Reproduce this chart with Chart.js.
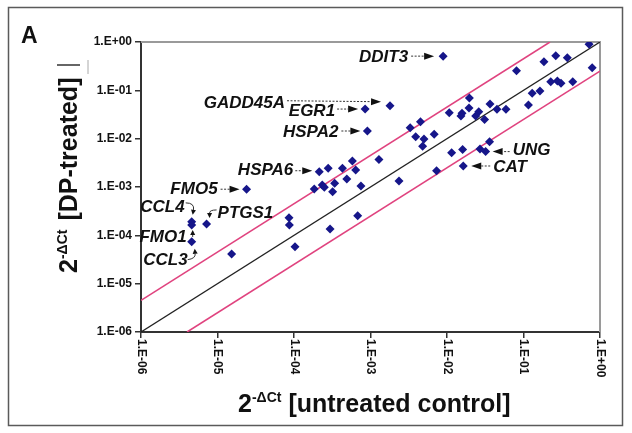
<!DOCTYPE html>
<html>
<head>
<meta charset="utf-8">
<script src="https://cdn.jsdelivr.net/npm/chart.js@4.4.0/dist/chart.umd.min.js"></script>
<style>
  html, body { margin: 0; padding: 0; background: #fff; }
  #chart { display: block; }
</style>
</head>
<body>
<canvas id="chart" width="632" height="433"></canvas>
<script>
const FONT = '"Liberation Sans", Arial, sans-serif';

const tickValues = [1e-6, 1e-5, 1e-4, 1e-3, 1e-2, 1e-1, 1];
const xTickLabels = ['1.E-06', '1.E-05', '1.E-04', '1.E-03', '1.E-02', '1.E-01', '1.E+00'];
const yTickLabels = ['1.E-06', '1.E-05', '1.E-04', '1.E-03', '1.E-02', '1.E-01', '1.E+00'];

// genes called out on the plot
const labelledGenes = ['DDIT3', 'GADD45A', 'EGR1', 'HSPA2', 'HSPA6', 'FMO5', 'CCL4', 'PTGS1', 'FMO1', 'CCL3', 'UNG', 'CAT'];
const labelledControl = [8.9e-3, 1.8e-3, 8.5e-4, 9.1e-4, 2.14e-4, 2.4e-5, 4.6e-6, 7.2e-6, 4.6e-6, 4.6e-6, 3.2e-2, 1.63e-2];
const labelledTreated = [0.51, 4.8e-2, 4.1e-2, 1.44e-2, 2.07e-3, 9.0e-4, 1.9e-4, 1.72e-4, 1.64e-4, 7.4e-5, 5.4e-3, 2.72e-3];

// remaining genes
const otherControl = [
  1.53e-5, 8.6e-5, 8.7e-5, 1.03e-4, 2.8e-4, 4.3e-4, 5.8e-4, 6.4e-4, 1.29e-3, 4.9e-4,
  3.4e-4, 1.84e-4, 2.34e-4, 2.49e-4, 3.2e-4, 7.5e-4, 2.36e-3, 6.8e-4, 2.96e-4, 3.3e-3,
  4.5e-3, 3.9e-3, 5.0e-3, 4.8e-3, 6.8e-3, 1.07e-2, 1.52e-2, 1.57e-2, 1.96e-2, 1.94e-2,
  2.6e-2, 2.37e-2, 3.1e-2, 3.65e-2, 4.5e-2, 5.9e-2, 7.3e-3, 1.15e-2, 1.6e-2, 2.7e-2,
  3.6e-2, 0.72, 0.264, 0.185, 0.374, 8.1e-2, 0.79, 0.227, 0.277, 0.309,
  0.44, 0.13, 0.164, 0.116
];
const otherTreated = [
  4.1e-5, 2.3e-4, 1.64e-4, 5.8e-5, 2.44e-3, 2.44e-3, 3.45e-3, 2.25e-3, 3.7e-3, 1.47e-3,
  1.19e-3, 9.1e-4, 1.1e-3, 9.9e-4, 8.0e-4, 1.05e-3, 1.33e-3, 2.55e-4, 1.35e-4, 1.69e-2,
  2.24e-2, 1.1e-2, 9.8e-3, 7.0e-3, 1.23e-2, 3.45e-2, 2.94e-2, 3.35e-2, 6.9e-2, 4.3e-2,
  3.6e-2, 2.94e-2, 2.5e-2, 5.2e-2, 4.05e-2, 4.05e-2, 2.17e-3, 5.1e-3, 6.0e-3, 6.1e-3,
  8.6e-3, 0.9, 0.52, 0.39, 0.47, 0.255, 0.294, 0.151, 0.156, 0.14,
  0.151, 8.7e-2, 9.7e-2, 4.98e-2
];

// reference lines: identity and the fold-change band
const identityX = [1e-6, 1];
const identityY = [1e-6, 1];
const upperX = [1e-6, 0.222];
const upperY = [4.5e-6, 1];
const lowerX = [4e-6, 1];
const lowerY = [1e-6, 0.25];

// where each callout text and arrow sits, relative to its point (pixels)
const callouts = {
  DDIT3:   { align: 'right', tx: -35, ty: 1,  arrow: [[-32, 0], [-9, 0]], dotted: true },
  GADD45A: { align: 'right', tx: -105, ty: -2, arrow: [[-103, -5], [-9, -4]], dotted: true },
  EGR1:    { align: 'right', tx: -30, ty: 2,  arrow: [[-28, 0], [-7, 0]], dotted: true },
  HSPA2:   { align: 'right', tx: -29, ty: 1,  arrow: [[-26, 0], [-7, 0]], dotted: true },
  HSPA6:   { align: 'right', tx: -26, ty: -1, arrow: [[-24, -1], [-7, -1]], dotted: true },
  FMO5:    { align: 'right', tx: -29, ty: 0,  arrow: [[-26, 0], [-7, 0]], dotted: true },
  CCL4:    { align: 'right', tx: -7, ty: -15, arrow: [[-6, -19], [3, -19], [1, -7]], small: true },
  PTGS1:   { align: 'left',  tx: 11, ty: -11, arrow: [[10, -14], [3, -14], [3, -6]], small: true },
  FMO1:    { align: 'right', tx: -5, ty: 12,  arrow: [[1, 12], [1, 5]], small: true },
  CCL3:    { align: 'right', tx: -4, ty: 19,  arrow: [[-4, 18], [4, 17], [3, 7]], small: true },
  UNG:     { align: 'left',  tx: 27, ty: -1,  arrow: [[24, 0], [7, 0]], dotted: true },
  CAT:     { align: 'left',  tx: 30, ty: 1,   arrow: [[27, 0], [8, 0]], dotted: true },
};

function toPoints(xs, ys) {
  return xs.map((x, i) => ({ x, y: ys[i] }));
}

function drawArrow(ctx, pts, opts) {
  const last = pts[pts.length - 1];
  const prev = pts[pts.length - 2];
  const headLen = opts.small ? 5 : 10;
  const half = opts.small ? 2.5 : 3.5;
  const ang = Math.atan2(last[1] - prev[1], last[0] - prev[0]);
  const bx = last[0] - headLen * Math.cos(ang);
  const by = last[1] - headLen * Math.sin(ang);

  ctx.save();
  ctx.strokeStyle = '#333';
  ctx.fillStyle = '#111';
  ctx.lineWidth = 1;
  if (opts.dotted) ctx.setLineDash([2, 1.5]);
  ctx.beginPath();
  ctx.moveTo(pts[0][0], pts[0][1]);
  if (pts.length === 3) {
    ctx.quadraticCurveTo(pts[1][0], pts[1][1], bx, by);
  } else {
    ctx.lineTo(bx, by);
  }
  ctx.stroke();
  ctx.setLineDash([]);
  ctx.beginPath();
  ctx.moveTo(last[0], last[1]);
  ctx.lineTo(bx + half * Math.sin(ang), by - half * Math.cos(ang));
  ctx.lineTo(bx - half * Math.sin(ang), by + half * Math.cos(ang));
  ctx.closePath();
  ctx.fill();
  ctx.restore();
}

const decorPlugin = {
  id: 'decor',
  beforeDraw(chart) {
    const { ctx } = chart;
    ctx.save();
    ctx.fillStyle = '#fff';
    ctx.fillRect(0, 0, chart.width, chart.height);
    ctx.strokeStyle = '#5a5a5a';
    ctx.lineWidth = 1.5;
    ctx.strokeRect(8.5, 7.5, 614, 418);
    ctx.restore();
  },
  beforeDatasetsDraw(chart) {
    const { ctx, chartArea: a } = chart;
    ctx.save();
    ctx.strokeStyle = '#9a9a9a';
    ctx.lineWidth = 2;
    ctx.beginPath();
    ctx.moveTo(a.left, a.top);
    ctx.lineTo(a.right, a.top);
    ctx.lineTo(a.right, a.bottom);
    ctx.stroke();
    ctx.restore();
  },
  afterDraw(chart) {
    const { ctx, chartArea: a } = chart;
    const xs = chart.scales.x;
    const ys = chart.scales.y;
    ctx.save();

    // panel letter
    ctx.fillStyle = '#111';
    ctx.font = `bold 23px ${FONT}`;
    ctx.textBaseline = 'alphabetic';
    ctx.textAlign = 'left';
    ctx.fillText('A', 21, 43);

    // x tick labels, rotated clockwise
    ctx.font = `bold 12px ${FONT}`;
    ctx.textBaseline = 'middle';
    tickValues.forEach((v, i) => {
      const px = xs.getPixelForValue(v);
      ctx.save();
      ctx.translate(px, a.bottom + 7);
      ctx.rotate(Math.PI / 2);
      ctx.fillText(xTickLabels[i], 0, 0);
      ctx.restore();
    });

    // x axis title
    ctx.textBaseline = 'alphabetic';
    let cx = 238;
    const by = 412;
    ctx.font = `bold 25px ${FONT}`;
    ctx.fillText('2', cx, by);
    cx += ctx.measureText('2').width;
    ctx.font = `bold 14px ${FONT}`;
    ctx.fillText('-\u0394Ct', cx, by - 10);
    cx += ctx.measureText('-\u0394Ct').width + 7;
    ctx.font = `bold 25px ${FONT}`;
    ctx.fillText('[untreated control]', cx, by);

    // y axis title, rotated
    ctx.save();
    ctx.translate(77, 273);
    ctx.rotate(-Math.PI / 2);
    let ry = 0;
    ctx.font = `bold 25px ${FONT}`;
    ctx.fillText('2', ry, 0);
    ry += ctx.measureText('2').width;
    ctx.font = `bold 14px ${FONT}`;
    ctx.fillText('-\u0394Ct', ry, -10);
    ry += ctx.measureText('-\u0394Ct').width + 9;
    ctx.font = `bold 25px ${FONT}`;
    ctx.fillText('[DP-treated]', ry, 0);
    ctx.restore();

    // small stray marks near the y title
    ctx.strokeStyle = '#333';
    ctx.lineWidth = 1.5;
    ctx.beginPath();
    ctx.moveTo(57, 65);
    ctx.lineTo(80, 65);
    ctx.stroke();
    ctx.strokeStyle = '#aaa';
    ctx.lineWidth = 1;
    ctx.beginPath();
    ctx.moveTo(88, 60);
    ctx.lineTo(88, 74);
    ctx.stroke();

    // gene callouts
    ctx.font = `italic bold 17px ${FONT}`;
    ctx.textBaseline = 'middle';
    labelledGenes.forEach((gene, i) => {
      const c = callouts[gene];
      const px = xs.getPixelForValue(labelledControl[i]);
      const py = ys.getPixelForValue(labelledTreated[i]);
      ctx.fillStyle = '#111';
      ctx.textAlign = c.align;
      ctx.fillText(gene, px + c.tx, py + c.ty);
      drawArrow(ctx, c.arrow.map(([dx, dy]) => [px + dx, py + dy]), c);
    });

    ctx.restore();
  },
};

const lineStyle = { type: 'line', showLine: true, pointRadius: 0, fill: false, tension: 0 };

new Chart(document.getElementById('chart'), {
  type: 'scatter',
  data: {
    datasets: [
      {
        label: 'labelled',
        data: toPoints(labelledControl, labelledTreated),
        pointStyle: 'rectRot',
        pointRadius: 4.5,
        backgroundColor: '#16168a',
        borderWidth: 0,
      },
      {
        label: 'genes',
        data: toPoints(otherControl, otherTreated),
        pointStyle: 'rectRot',
        pointRadius: 4.5,
        backgroundColor: '#16168a',
        borderWidth: 0,
      },
      { ...lineStyle, label: 'identity', data: toPoints(identityX, identityY), borderColor: '#222', borderWidth: 1.3 },
      { ...lineStyle, label: 'upper', data: toPoints(upperX, upperY), borderColor: '#e0437f', borderWidth: 1.6 },
      { ...lineStyle, label: 'lower', data: toPoints(lowerX, lowerY), borderColor: '#e0437f', borderWidth: 1.6 },
    ],
  },
  options: {
    responsive: false,
    animation: false,
    events: [],
    layout: { padding: { top: 42, right: 32, bottom: 0, left: 0 } },
    plugins: {
      legend: { display: false },
      tooltip: { enabled: false },
    },
    scales: {
      x: {
        type: 'logarithmic',
        position: 'bottom',
        min: 1e-6,
        max: 1,
        afterBuildTicks: (s) => { s.ticks = tickValues.map((value) => ({ value })); },
        afterFit: (s) => { s.height = 101; },
        ticks: { display: false },
        grid: { display: true, drawOnChartArea: false, drawTicks: true, tickLength: 6, color: '#333', lineWidth: 1.5 },
        border: { display: true, color: '#333', width: 2 },
      },
      y: {
        type: 'logarithmic',
        position: 'left',
        min: 1e-6,
        max: 1,
        afterBuildTicks: (s) => { s.ticks = tickValues.map((value) => ({ value })); },
        afterFit: (s) => { s.width = 141; },
        ticks: {
          padding: 3,
          color: '#111',
          font: { family: FONT, size: 12, weight: 'bold' },
          callback: (value, index) => yTickLabels[index],
        },
        grid: { display: true, drawOnChartArea: false, drawTicks: true, tickLength: 6, color: '#333', lineWidth: 1.5 },
        border: { display: true, color: '#333', width: 2 },
      },
    },
  },
  plugins: [decorPlugin],
});
</script>
</body>
</html>
